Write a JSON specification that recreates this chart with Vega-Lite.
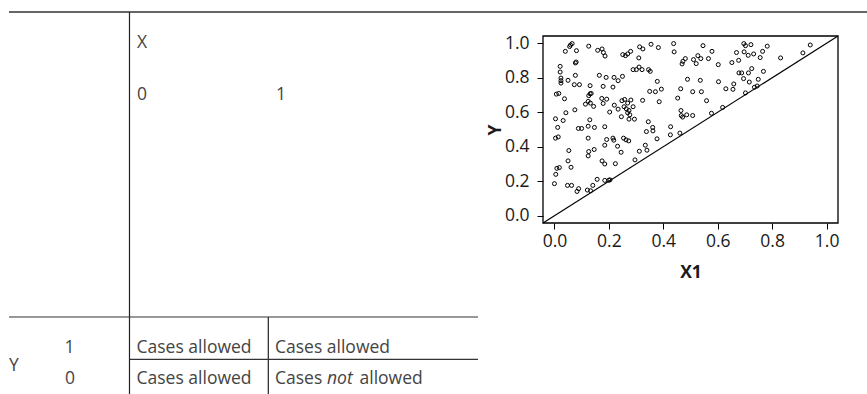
{
  "$schema": "https://vega.github.io/schema/vega-lite/v6.json",
  "background": "white",
  "padding": {"left": 0, "top": 10, "right": 0, "bottom": 0},
  "data": {"values": [{}]},
  "config": {
    "view": {"stroke": null},
    "concat": {"spacing": -3},
    "axis": {"labelOverlap": false},
    "text": {"font": "Open Sans", "fontSize": 17.5, "color": "#444", "align": "left", "baseline": "alphabetic"}
  },
  "spacing": -3,
  "hconcat": [
    {
      "width": 478,
      "height": 359,
      "layer": [
        {"mark": {"type": "rule", "color": "#666", "strokeWidth": 2, "strokeCap": "square"},
         "encoding": {"x": {"datum": 2.09, "type": "quantitative", "scale": {"domain": [0, 100], "nice": false, "zero": false}, "axis": null},
                      "x2": {"datum": 100.42},
                      "y": {"datum": 0, "type": "quantitative", "scale": {"domain": [6.266, 100], "nice": false, "zero": false, "reverse": true}, "axis": null}}},
        {"mark": {"type": "rule", "color": "#222", "strokeWidth": 1.2},
         "encoding": {"x": {"datum": 27.09, "type": "quantitative"}, "y": {"datum": 0, "type": "quantitative"}, "y2": {"datum": 100}}},
        {"mark": {"type": "rule", "color": "#333", "strokeWidth": 1.2},
         "encoding": {"x": {"datum": 1.88, "type": "quantitative"}, "x2": {"datum": 100}, "y": {"datum": 79.63, "type": "quantitative"}}},
        {"mark": {"type": "rule", "color": "#222", "strokeWidth": 1.2},
         "encoding": {"x": {"datum": 56.13, "type": "quantitative"}, "y": {"datum": 79.63, "type": "quantitative"}, "y2": {"datum": 100}}},
        {"mark": {"type": "rule", "color": "#333", "strokeWidth": 1.2},
         "encoding": {"x": {"datum": 27.09, "type": "quantitative"}, "x2": {"datum": 100}, "y": {"datum": 90.68, "type": "quantitative"}}},
        {"mark": {"type": "text", "text": "X"},
         "encoding": {"x": {"datum": 28.66, "type": "quantitative"}, "y": {"datum": 9.27, "type": "quantitative"}}},
        {"mark": {"type": "text", "text": "0"},
         "encoding": {"x": {"datum": 28.66, "type": "quantitative"}, "y": {"datum": 22.85, "type": "quantitative"}}},
        {"mark": {"type": "text", "text": "1"},
         "encoding": {"x": {"datum": 57.74, "type": "quantitative"}, "y": {"datum": 22.85, "type": "quantitative"}}},
        {"mark": {"type": "text", "text": "Y"},
         "encoding": {"x": {"datum": 1.88, "type": "quantitative"}, "y": {"datum": 93.73, "type": "quantitative"}}},
        {"mark": {"type": "text", "text": "1"},
         "encoding": {"x": {"datum": 13.49, "type": "quantitative"}, "y": {"datum": 89.11, "type": "quantitative"}}},
        {"mark": {"type": "text", "text": "0"},
         "encoding": {"x": {"datum": 13.6, "type": "quantitative"}, "y": {"datum": 97.13, "type": "quantitative"}}},
        {"mark": {"type": "text", "text": "Cases allowed"},
         "encoding": {"x": {"datum": 28.56, "type": "quantitative"}, "y": {"datum": 89.11, "type": "quantitative"}}},
        {"mark": {"type": "text", "text": "Cases allowed"},
         "encoding": {"x": {"datum": 57.53, "type": "quantitative"}, "y": {"datum": 89.11, "type": "quantitative"}}},
        {"mark": {"type": "text", "text": "Cases allowed"},
         "encoding": {"x": {"datum": 28.56, "type": "quantitative"}, "y": {"datum": 97.13, "type": "quantitative"}}},
        {"mark": {"type": "text", "text": "Cases"},
         "encoding": {"x": {"datum": 57.53, "type": "quantitative"}, "y": {"datum": 97.13, "type": "quantitative"}}},
        {"mark": {"type": "text", "text": "not", "fontStyle": "italic"},
         "encoding": {"x": {"datum": 68.41, "type": "quantitative"}, "y": {"datum": 97.13, "type": "quantitative"}}},
        {"mark": {"type": "text", "text": "allowed"},
         "encoding": {"x": {"datum": 75.21, "type": "quantitative"}, "y": {"datum": 97.13, "type": "quantitative"}}}
      ]
    },
    {
      "width": 295,
      "height": 187,
      "layer": [
        {
          "data": {"values": [
            {"X1":0.065,"Y":0.998},{"X1":0.059,"Y":0.990},{"X1":0.056,"Y":0.981},{"X1":0.040,"Y":0.953},{"X1":0.081,"Y":0.957},
            {"X1":0.126,"Y":0.983},{"X1":0.159,"Y":0.959},{"X1":0.175,"Y":0.967},{"X1":0.180,"Y":0.946},{"X1":0.186,"Y":0.926},
            {"X1":0.251,"Y":0.934},{"X1":0.261,"Y":0.928},{"X1":0.269,"Y":0.938},{"X1":0.280,"Y":0.953},{"X1":0.313,"Y":0.979},
            {"X1":0.325,"Y":0.967},{"X1":0.355,"Y":0.994},{"X1":0.382,"Y":0.975},{"X1":0.438,"Y":0.998},{"X1":0.440,"Y":0.950},
            {"X1":0.546,"Y":0.986},{"X1":0.579,"Y":0.953},{"X1":0.696,"Y":0.998},{"X1":0.702,"Y":0.986},{"X1":0.722,"Y":0.992},
            {"X1":0.669,"Y":0.946},{"X1":0.697,"Y":0.950},{"X1":0.782,"Y":0.983},{"X1":0.765,"Y":0.953},{"X1":0.732,"Y":0.938},
            {"X1":0.712,"Y":0.930},{"X1":0.940,"Y":0.990},{"X1":0.913,"Y":0.944},{"X1":0.831,"Y":0.915},{"X1":0.756,"Y":0.917},
            {"X1":0.677,"Y":0.901},{"X1":0.652,"Y":0.888},{"X1":0.527,"Y":0.928},{"X1":0.538,"Y":0.911},{"X1":0.511,"Y":0.905},
            {"X1":0.521,"Y":0.882},{"X1":0.481,"Y":0.911},{"X1":0.472,"Y":0.895},{"X1":0.469,"Y":0.880},{"X1":0.566,"Y":0.911},
            {"X1":0.602,"Y":0.876},{"X1":0.310,"Y":0.915},{"X1":0.077,"Y":0.886},{"X1":0.080,"Y":0.891},{"X1":0.021,"Y":0.866},
            {"X1":0.021,"Y":0.833},{"X1":0.289,"Y":0.847},{"X1":0.301,"Y":0.847},{"X1":0.311,"Y":0.862},{"X1":0.322,"Y":0.847},
            {"X1":0.346,"Y":0.847},{"X1":0.352,"Y":0.837},{"X1":0.165,"Y":0.814},{"X1":0.190,"Y":0.802},{"X1":0.219,"Y":0.802},
            {"X1":0.234,"Y":0.783},{"X1":0.250,"Y":0.808},{"X1":0.077,"Y":0.814},{"X1":0.024,"Y":0.798},{"X1":0.024,"Y":0.783},
            {"X1":0.024,"Y":0.769},{"X1":0.050,"Y":0.785},{"X1":0.073,"Y":0.760},{"X1":0.092,"Y":0.760},{"X1":0.131,"Y":0.754},
            {"X1":0.179,"Y":0.750},{"X1":0.215,"Y":0.746},{"X1":0.378,"Y":0.779},{"X1":0.350,"Y":0.721},{"X1":0.371,"Y":0.719},
            {"X1":0.393,"Y":0.734},{"X1":0.489,"Y":0.791},{"X1":0.536,"Y":0.785},{"X1":0.464,"Y":0.736},{"X1":0.508,"Y":0.719},
            {"X1":0.540,"Y":0.719},{"X1":0.559,"Y":0.667},{"X1":0.453,"Y":0.682},{"X1":0.603,"Y":0.777},{"X1":0.630,"Y":0.736},
            {"X1":0.656,"Y":0.733},{"X1":0.659,"Y":0.764},{"X1":0.695,"Y":0.795},{"X1":0.713,"Y":0.828},{"X1":0.678,"Y":0.828},
            {"X1":0.688,"Y":0.828},{"X1":0.725,"Y":0.853},{"X1":0.768,"Y":0.837},{"X1":0.749,"Y":0.791},{"X1":0.716,"Y":0.775},
            {"X1":0.735,"Y":0.745},{"X1":0.745,"Y":0.752},{"X1":0.702,"Y":0.712},{"X1":0.618,"Y":0.628},{"X1":0.577,"Y":0.594},
            {"X1":0.007,"Y":0.705},{"X1":0.016,"Y":0.709},{"X1":0.037,"Y":0.678},{"X1":0.126,"Y":0.696},{"X1":0.131,"Y":0.707},
            {"X1":0.135,"Y":0.709},{"X1":0.114,"Y":0.647},{"X1":0.124,"Y":0.663},{"X1":0.132,"Y":0.653},{"X1":0.144,"Y":0.634},
            {"X1":0.174,"Y":0.680},{"X1":0.192,"Y":0.676},{"X1":0.179,"Y":0.651},{"X1":0.220,"Y":0.641},{"X1":0.234,"Y":0.618},
            {"X1":0.203,"Y":0.601},{"X1":0.248,"Y":0.667},{"X1":0.258,"Y":0.674},{"X1":0.269,"Y":0.653},{"X1":0.281,"Y":0.671},
            {"X1":0.256,"Y":0.632},{"X1":0.264,"Y":0.620},{"X1":0.274,"Y":0.610},{"X1":0.269,"Y":0.597},{"X1":0.277,"Y":0.585},
            {"X1":0.289,"Y":0.632},{"X1":0.246,"Y":0.574},{"X1":0.274,"Y":0.560},{"X1":0.294,"Y":0.560},{"X1":0.324,"Y":0.669},
            {"X1":0.385,"Y":0.661},{"X1":0.042,"Y":0.597},{"X1":0.075,"Y":0.614},{"X1":0.004,"Y":0.562},{"X1":0.032,"Y":0.552},
            {"X1":0.130,"Y":0.556},{"X1":0.465,"Y":0.610},{"X1":0.466,"Y":0.581},{"X1":0.471,"Y":0.572},{"X1":0.486,"Y":0.585},
            {"X1":0.508,"Y":0.581},{"X1":0.345,"Y":0.545},{"X1":0.361,"Y":0.512},{"X1":0.362,"Y":0.492},{"X1":0.338,"Y":0.488},
            {"X1":0.427,"Y":0.516},{"X1":0.426,"Y":0.469},{"X1":0.461,"Y":0.479},{"X1":0.088,"Y":0.506},{"X1":0.100,"Y":0.506},
            {"X1":0.124,"Y":0.519},{"X1":0.147,"Y":0.512},{"X1":0.185,"Y":0.516},{"X1":0.012,"Y":0.512},{"X1":0.377,"Y":0.446},
            {"X1":0.004,"Y":0.450},{"X1":0.014,"Y":0.457},{"X1":0.124,"Y":0.450},{"X1":0.192,"Y":0.442},{"X1":0.215,"Y":0.450},
            {"X1":0.218,"Y":0.438},{"X1":0.254,"Y":0.450},{"X1":0.263,"Y":0.440},{"X1":0.273,"Y":0.434},{"X1":0.185,"Y":0.409},
            {"X1":0.232,"Y":0.403},{"X1":0.334,"Y":0.409},{"X1":0.340,"Y":0.380},{"X1":0.312,"Y":0.374},{"X1":0.053,"Y":0.378},
            {"X1":0.124,"Y":0.347},{"X1":0.126,"Y":0.372},{"X1":0.146,"Y":0.384},{"X1":0.050,"Y":0.318},{"X1":0.061,"Y":0.281},
            {"X1":0.175,"Y":0.318},{"X1":0.185,"Y":0.300},{"X1":0.224,"Y":0.302},{"X1":0.245,"Y":0.368},{"X1":0.296,"Y":0.324},
            {"X1":0.009,"Y":0.275},{"X1":0.018,"Y":0.279},{"X1":0.005,"Y":0.240},{"X1":0.000,"Y":0.186},{"X1":0.048,"Y":0.176},
            {"X1":0.063,"Y":0.176},{"X1":0.083,"Y":0.141},{"X1":0.089,"Y":0.157},{"X1":0.121,"Y":0.149},{"X1":0.133,"Y":0.145},
            {"X1":0.141,"Y":0.176},{"X1":0.157,"Y":0.211},{"X1":0.185,"Y":0.205},{"X1":0.200,"Y":0.206},{"X1":0.204,"Y":0.208}
          ]},
          "mark": {"type": "point", "shape": "circle", "filled": false, "color": "#000", "size": 16, "strokeWidth": 1, "opacity": 1},
          "encoding": {
            "x": {"field": "X1", "type": "quantitative",
                  "scale": {"domain": [-0.042, 1.042], "nice": false, "zero": false},
                  "axis": {"title": "X1", "values": [0, 0.2, 0.4, 0.6, 0.8, 1], "tickCount": 12, "format": ".1f", "grid": false, "domain": false, "labelOverlap": false,
                           "tickColor": "#000", "tickSize": 6, "tickWidth": 1, "labelFont": "Open Sans", "labelFontSize": 17.5, "labelColor": "#1a1a1a",
                           "labelPadding": 3, "titleFont": "Open Sans", "titleFontSize": 17.5, "titleFontWeight": "bold", "titleColor": "#1a1a1a", "titlePadding": 14}},
            "y": {"field": "Y", "type": "quantitative",
                  "scale": {"domain": [-0.042, 1.042], "nice": false, "zero": false},
                  "axis": {"title": "Y", "values": [0, 0.2, 0.4, 0.6, 0.8, 1], "tickCount": 12, "format": ".1f", "grid": false, "domain": false, "labelOverlap": false,
                           "tickColor": "#000", "tickSize": 6, "tickWidth": 1, "labelFont": "Open Sans", "labelFontSize": 17.5, "labelColor": "#1a1a1a",
                           "labelPadding": 8, "titleFont": "Open Sans", "titleFontSize": 17.5, "titleFontWeight": "bold", "titleColor": "#1a1a1a", "titlePadding": 0}}
          }
        },
        {"mark": {"type": "rule", "color": "#666", "strokeWidth": 2, "strokeCap": "square"},
         "encoding": {"x": {"datum": -0.2688, "type": "quantitative"}, "x2": {"datum": 1.16}, "y": {"datum": 1.181, "type": "quantitative"}}},
        {"mark": {"type": "rect", "filled": false, "stroke": "#000", "strokeWidth": 1.3},
         "encoding": {"x": {"datum": -0.042, "type": "quantitative"}, "x2": {"datum": 1.042}, "y": {"datum": -0.042, "type": "quantitative"}, "y2": {"datum": 1.042}}},
        {"mark": {"type": "rule", "color": "#000", "strokeWidth": 1.2},
         "encoding": {"x": {"datum": -0.042, "type": "quantitative"}, "x2": {"datum": 1.042}, "y": {"datum": -0.042, "type": "quantitative"}, "y2": {"datum": 1.042}}}
      ]
    }
  ]
}
